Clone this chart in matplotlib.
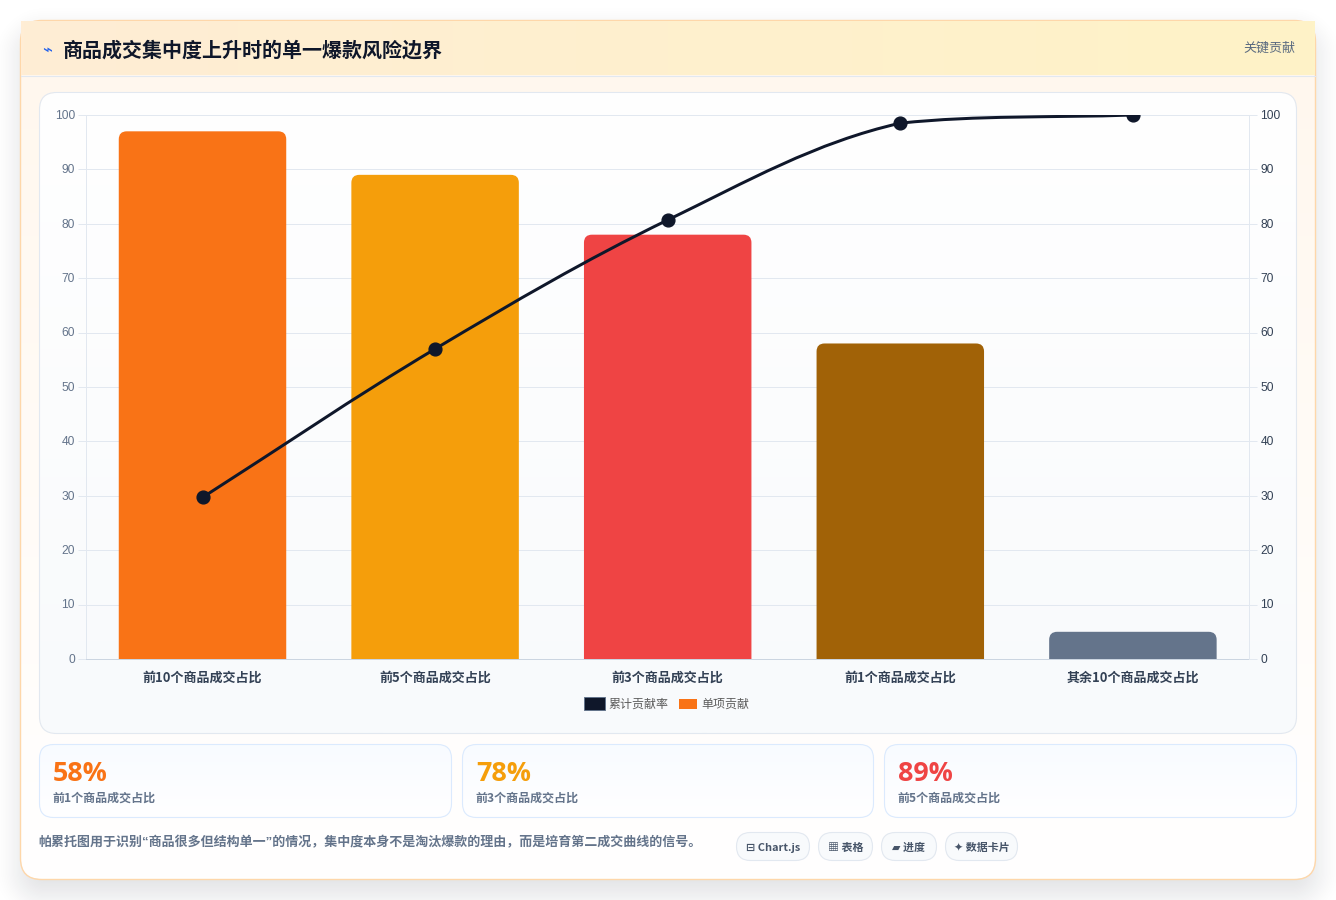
"""Pareto card: single-item bars with a cumulative line, KPI cards and pills underneath."""
import numpy as np
import matplotlib
matplotlib.use("Agg")
import matplotlib.pyplot as plt
from matplotlib.colors import to_rgb
from matplotlib.legend_handler import HandlerPatch
from matplotlib.patches import FancyBboxPatch, Patch, PathPatch, Rectangle
from matplotlib.path import Path
from matplotlib.transforms import ScaledTranslation

W, H = 1336, 900
CJK = ["Noto Sans CJK SC", "DejaVu Sans"]
LATIN_FIRST = ["Liberation Sans", "Noto Sans CJK SC"]
plt.rcParams["font.family"] = CJK

title = "商品成交集中度上升时的单一爆款风险边界"
badge = "关键贡献"
categories = ["前10个商品成交占比", "前5个商品成交占比", "前3个商品成交占比", "前1个商品成交占比", "其余10个商品成交占比"]
bar_values = [97, 89, 78, 58, 5]
bar_colors = ["#f97316", "#f59e0b", "#ef4444", "#a16207", "#64748b"]
line_values = [29.7, 57, 80.7, 98.5, 100]
y_ticks = list(range(0, 101, 10))
legend_labels = ["累计贡献率", "单项贡献"]
kpi_values = ["58%", "78%", "89%"]
kpi_labels = ["前1个商品成交占比", "前3个商品成交占比", "前5个商品成交占比"]
kpi_colors = ["#f97316", "#f59e0b", "#ef4444"]
note = "帕累托图用于识别“商品很多但结构单一”的情况，集中度本身不是淘汰爆款的理由，而是培育第二成交曲线的信号。"
pills = ["⊟ Chart.js", "▦ 表格", "▰ 进度", "✦ 数据卡片"]

LINE = "#0f172a"
GRID = "#e2e8f0"


def box(x0, y0, x1, y1, r, **kw):
    return FancyBboxPatch((x0 + r, y0 + r), x1 - x0 - 2 * r, y1 - y0 - 2 * r,
                          boxstyle=f"round,pad={r},rounding_size={r}", **kw)


def gradient(ax, extent, c0, c1, horizontal=False, clip=None, z=1):
    t = np.linspace(0, 1, 256)
    t = t[None, :] if horizontal else t[:, None]
    a, b = np.array(to_rgb(c0)), np.array(to_rgb(c1))
    img = a + (b - a) * t[..., None]
    im = ax.imshow(img, extent=extent, aspect="auto", zorder=z, interpolation="bilinear")
    if clip is not None:
        im.set_clip_path(clip)
    return im


def rounded_shadow(ax, x0, y0, x1, y1, r, blur, strength):
    # signed distance to the rounded card, faded out over the blur width
    xx, yy = np.meshgrid(np.arange(W) + 0.5, np.arange(H) + 0.5)
    cx, cy = (x0 + x1) / 2, (y0 + y1) / 2
    qx = np.abs(xx - cx) - ((x1 - x0) / 2 - r)
    qy = np.abs(yy - cy) - ((y1 - y0) / 2 - r)
    d = np.hypot(np.maximum(qx, 0), np.maximum(qy, 0)) + np.minimum(np.maximum(qx, qy), 0) - r
    a = np.clip(0.5 - d / blur, 0, 1)
    a = a * a * (3 - 2 * a) * strength
    rgba = np.zeros((H, W, 4))
    rgba[..., :3] = to_rgb("#0f172a")
    rgba[..., 3] = a
    ax.imshow(rgba, extent=(0, W, H, 0), aspect="auto", zorder=0.5, interpolation="bilinear")


fig = plt.figure(figsize=(W / 100, H / 100), dpi=100, facecolor="#ffffff")

# --- page layer, works in pixels from the top left ---
bg = fig.add_axes([0, 0, 1, 1], zorder=0)
bg.set_xlim(0, W)
bg.set_ylim(H, 0)
bg.axis("off")
rounded_shadow(bg, 20, 32, 1316, 895, 24, 60, 0.13)

card_clip = box(21, 21, 1315, 879, 20, transform=bg.transData)
gradient(bg, (21, 1315, 879, 21), "#fff7ed", "#ffffff", clip=card_clip)
bg.add_patch(box(20.5, 20.5, 1315.5, 879.5, 21, fc="none", ec="#fed7aa", lw=1, zorder=1.5))

gradient(bg, (21, 1315, 75, 21), "#ffedd5", "#fef3c7", horizontal=True, z=2)
bg.plot([21, 1315], [75.5, 75.5], color=GRID, lw=0.8, zorder=2.1)
bg.text(47, 49.5, "⌁", color="#2563eb", fontsize=12, ha="center", va="center", family=["DejaVu Sans"], zorder=3)
bg.text(63, 50, title, color=LINE, fontsize=14.4, fontweight="bold", ha="left", va="center", zorder=3)
bg.text(1295.5, 48, badge, color="#5b6b80", fontsize=9.36, ha="right", va="center", zorder=3)

panel_clip = box(40, 93, 1296, 733, 16, transform=bg.transData)
gradient(bg, (40, 1296, 733, 93), "#ffffff", "#f8fafc", clip=panel_clip, z=2)
bg.add_patch(box(39.5, 92.5, 1296.5, 733.5, 17, fc="none", ec=GRID, lw=0.8, zorder=2.2))

# KPI cards
kpi_left = [39.5, 462.5, 884.5]
kpi_right = [451.5, 873.5, 1296.5]
for x0, x1, val, lab, col in zip(kpi_left, kpi_right, kpi_values, kpi_labels, kpi_colors):
    clip = box(x0, 744.5, x1, 817.5, 14, transform=bg.transData)
    gradient(bg, (x0, x1, 817.5, 744.5), "#f8fbff", "#ffffff", clip=clip, z=2)
    bg.add_patch(box(x0, 744.5, x1, 817.5, 14, fc="none", ec="#dbeafe", lw=0.8, zorder=2.2))
    bg.text(x0 + 13.5, 774, val, color=col, fontsize=19.4, fontweight="bold", family=["Open Sans"],
            ha="left", va="center", zorder=3)
    bg.text(x0 + 13, 798.5, lab, color="#64748b", fontsize=8.64, fontweight="bold", ha="left", va="center", zorder=3)

bg.text(38.5, 842.5, note, color="#64748b", fontsize=9.36, fontweight="bold", family=LATIN_FIRST,
        ha="left", va="center", zorder=3)

# pills
pill_left = [736.5, 818.5, 881.5, 945.5]
pill_right = [809.5, 872.5, 936.5, 1017.5]
for x0, x1, label in zip(pill_left, pill_right, pills):
    bg.add_patch(box(x0, 832.5, x1, 860.5, 14, fc="#f8fafc", ec=GRID, lw=0.8, zorder=2.2))
    bg.text((x0 + x1) / 2, 848, label, color="#475569", fontsize=7.92, fontweight="bold",
            ha="center", va="center", zorder=3)

# --- chart layer ---
ax = fig.add_axes([86.2 / W, 1 - 659 / H, (1249 - 86) / W, (659 - 115) / H], zorder=1)
ax.patch.set_alpha(0)
n = len(categories)
ax.set_xlim(-0.5, n - 0.5)
ax.set_ylim(0, 100)
ax.set_xticks(range(n))
ax.set_xticklabels(categories, fontsize=9.36, fontweight="bold", color="#334155")
ax.tick_params(axis="x", length=0, pad=8.4)
ax.set_yticks(y_ticks)
ax.tick_params(axis="y", length=5.8, width=0.72, color=GRID, labelcolor="#64748b", labelsize=8.64, pad=2.2)
lift = ScaledTranslation(0, 0.6 / 100, fig.dpi_scale_trans)
for lab in ax.get_yticklabels():
    lab.set_family(["Liberation Sans"])
    lab.set_transform(lab.get_transform() + lift)
ax.grid(axis="y", color=GRID, lw=0.72, zorder=0)
ax.set_axisbelow(True)
for side in ["top", "right"]:
    ax.spines[side].set_visible(False)
ax.spines["left"].set_color(GRID)
ax.spines["left"].set_linewidth(0.72)
ax.spines["bottom"].set_color("#cbd5e1")
ax.spines["bottom"].set_linewidth(0.72)

px_x = (1249 - 86) / n
px_y = (659 - 115) / 100
BAR_W = 0.72
bars = ax.bar(range(n), bar_values, width=BAR_W, color="none", edgecolor="none")
for rect, col in zip(bars, bar_colors):
    # rounded top corners, radius 8px expressed in data units
    x0, x1 = rect.get_x(), rect.get_x() + rect.get_width()
    top = rect.get_height()
    rx, ry = 8 / px_x, 8 / px_y
    verts = [(x0, 0), (x0, top - ry), (x0, top), (x0 + rx, top), (x1 - rx, top), (x1, top), (x1, top - ry),
             (x1, 0), (x0, 0)]
    codes = [Path.MOVETO, Path.LINETO, Path.CURVE3, Path.CURVE3, Path.LINETO, Path.CURVE3, Path.CURVE3,
             Path.LINETO, Path.CLOSEPOLY]
    ax.add_patch(PathPatch(Path(verts, codes), fc=col, ec="none", zorder=2))

ax2 = ax.twinx()
ax2.set_ylim(0, 100)
ax2.set_yticks(y_ticks)
ax2.tick_params(axis="y", length=5.8, width=0.72, color=GRID, labelcolor="#334155", labelsize=8.64, pad=2.2)
for lab in ax2.get_yticklabels():
    lab.set_family(["Liberation Sans"])
    lab.set_transform(lab.get_transform() + lift)
for side in ["top", "left", "bottom"]:
    ax2.spines[side].set_visible(False)
ax2.spines["right"].set_color(GRID)
ax2.spines["right"].set_linewidth(0.72)

# Chart.js style spline through the cumulative points
TENSION = 0.35
xs = np.arange(n, dtype=float)
ys = np.array(line_values, dtype=float)
after, before = [], []
for i in range(n):
    p, q = max(i - 1, 0), min(i + 1, n - 1)
    d0 = np.hypot((xs[i] - xs[p]) * px_x, (ys[i] - ys[p]) * px_y)
    d1 = np.hypot((xs[q] - xs[i]) * px_x, (ys[q] - ys[i]) * px_y)
    total = d0 + d1
    dx, dy = xs[q] - xs[p], ys[q] - ys[p]
    before.append((xs[i] - TENSION * d0 / total * dx, min(ys[i] - TENSION * d0 / total * dy, 100)))
    after.append((xs[i] + TENSION * d1 / total * dx, min(ys[i] + TENSION * d1 / total * dy, 100)))
verts = [(xs[0], ys[0])]
codes = [Path.MOVETO]
for i in range(n - 1):
    verts += [after[i], before[i + 1], (xs[i + 1], ys[i + 1])]
    codes += [Path.CURVE4] * 3
ax2.add_patch(PathPatch(Path(verts, codes), fc="none", ec=LINE, lw=2.16, zorder=3))
ax2.plot(xs, ys, ls="none", marker="o", ms=9.2, color=LINE, zorder=4)


def small_box(legend, orig_handle, xdescent, ydescent, width, height, fontsize):
    # the bar swatch is 18x12 px, the line swatch 21x15 px
    return Rectangle((-xdescent + width * 3 / 21, -ydescent + 1.08), width * 18 / 21, height - 2.16)


handles = [Patch(fc=LINE, ec="#64748b", lw=0.7), Patch(fc=bar_colors[0], ec="none")]
leg = ax2.legend(handles, legend_labels, ncol=2, loc="center", bbox_to_anchor=(666.5 / W, 1 - 704 / H),
                 bbox_transform=fig.transFigure, frameon=False, fontsize=8.64, labelcolor="#5c5c5c",
                 handlelength=1.75, handleheight=1.25, handletextpad=0.35, columnspacing=0.62,
                 handler_map={handles[1]: HandlerPatch(patch_func=small_box)})

fig.savefig("out.png", dpi=100, facecolor=fig.get_facecolor())
